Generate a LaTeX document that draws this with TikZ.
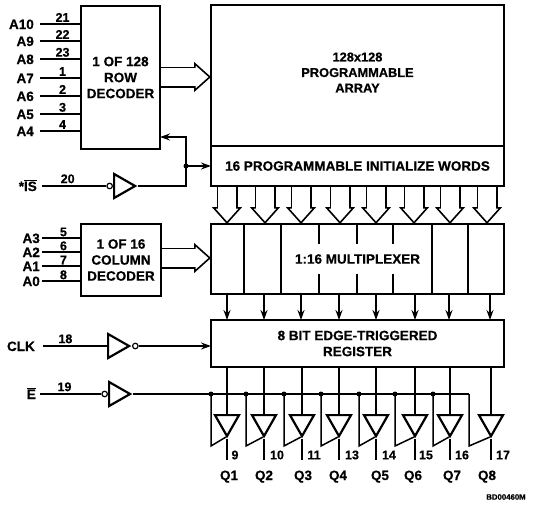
\documentclass[tikz,border=0pt]{standalone}
\usepackage{fontspec}
\setmainfont[BoldFeatures={FakeBold=0.5}]{Liberation Sans}
\usetikzlibrary{arrows.meta, positioning, shapes.geometric, calc, backgrounds}

\begin{document}
\begin{tikzpicture}[x=1pt, y=-1pt, font=\fontsize{13.5}{16}\selectfont\bfseries,
   box/.style={rectangle, draw=black, line width=2pt, fill=white, inner sep=0pt, outer sep=0pt, align=center},
   sig/.style={inner sep=0pt, text height=10pt, text depth=0pt},
   pinnum/.style={inner sep=0pt, font=\fontsize{12.5}{13}\selectfont\bfseries},
   wire/.style={line width=1.5pt},
   ar/.style={wire, -{Stealth[length=10pt, width=7pt]}},
   bus/.style={line width=21pt,
     -{Triangle[open, fill=white, length=17pt, width=30pt, line width=1.6pt]},
     postaction={draw=white, -, line width=17.8pt, shorten >=15pt}},
   buf/.style={isosceles triangle, isosceles triangle stretches, draw=black, line width=2.2pt,
     fill=white, inner sep=0pt, minimum width=24pt, minimum height=21pt},
   bubble/.style={circle, draw=black, line width=1.2pt, fill=white, inner sep=0pt, minimum size=5.5pt},
   dot/.style={circle, fill=black, inner sep=0pt, minimum size=5pt}]
 \useasboundingbox (0,0) rectangle (533,506);
 % main blocks
 \node[box, minimum width=293pt, minimum height=141pt] (array) at (357.5,75.5) {};
 \node[font=\fontsize{12.8}{15.5}\selectfont\bfseries, align=center, inner sep=0pt] (arraytxt) at ([yshift=3pt]array.center)
      {128x128\\PROGRAMMABLE\\ARRAY};
 \node[box, minimum width=293pt, minimum height=40pt, below=0pt of array] (init) {16 PROGRAMMABLE INITIALIZE WORDS};
 \node[box, minimum width=293pt, minimum height=70pt, below=38pt of init] (mux) {};
 \node[box, minimum width=293pt, minimum height=47pt, below=26pt of mux] (reg) {8 BIT EDGE-TRIGGERED\\REGISTER};
 \node[box, minimum width=79pt, minimum height=143pt] (rowdec) at (120.5,77.5) {1 OF 128\\ROW\\DECODER};
 \node[box, minimum width=80pt, minimum height=72pt] (coldec) at (121,260) {1 OF 16\\COLUMN\\DECODER};
 % row address inputs
 \foreach \nm/\pn/\yy in {A10/21/24, A9/22/41, A8/23/59, A7/1/78, A6/2/96, A5/3/114, A4/4/131} {
   \node[sig, anchor=east] (\nm) at (34,\yy) {\nm};
   \draw[wire] ([xshift=6pt]\nm.east) -- (\nm.east -| rowdec.west)
      node[pinnum, pos=.55, above=1.5pt] (p\pn) {\pn};
 }
 % column address inputs
 \foreach \nm/\pn/\yy in {A3/5/238, A2/6/252, A1/7/266, A0/8/281} {
   \node[sig, anchor=east] (\nm) at (40,\yy) {\nm};
   \draw[wire] ([xshift=2pt]\nm.east) -- (\nm.east -| coldec.west)
      node[pinnum, pos=.55, above=1pt] (p\pn) {\pn};
 }
 % initialize select
 \node[sig, anchor=east] (is) at (37,186) {*$\overline{\hbox{\bfseries IS}}$};
 \node[buf, anchor=lower side] (isbuf) at (113,186) {};
 \node[bubble, left=0pt of isbuf.lower side] (isinv) {};
 \draw[wire] ([xshift=5pt]is.east) -- (isinv.west) node[pinnum, pos=.4, above=2pt] (p20) {20};
 \coordinate (isj) at (186,166);
 \draw[wire] (isbuf.apex) -| (isj);
 \draw[ar] (isj) |- ([yshift=12pt]rowdec.south east);
 \draw[ar] (isj) -- (isj -| init.west);
 \node[dot] (isdot) at (isj) {};
 % clock
 \node[sig, anchor=east] (clk) at (35,346) {CLK};
 \node[buf, anchor=lower side] (clkbuf) at (107,346) {};
 \node[bubble, right=0pt of clkbuf.apex] (clkinv) {};
 \draw[wire] ([xshift=8pt]clk.east) -- (clkbuf.lower side) node[pinnum, pos=.35, above=2pt] (p18) {18};
 \draw[ar] (clkinv.east) -- (clkinv.east -| reg.west);
 % output enable
 \node[sig, anchor=east] (en) at (36,394) {$\overline{\hbox{\bfseries E}}$};
 \node[buf, anchor=lower side] (enbuf) at (108,394) {};
 \node[bubble, left=0pt of enbuf.lower side] (eninv) {};
 \draw[wire] ([xshift=4pt]en.east) -- (eninv.west) node[pinnum, pos=.4, above=2pt] (p19) {19};
 \coordinate (enend) at (469,394);
 \draw[wire] (enbuf.apex) -- (enend);
 % multiplexer dividers
 \foreach \xx in {244, 281, 319, 357, 393, 432, 468}
   \draw[wire] (\xx,0 |- mux.north) -- (\xx,0 |- mux.south);
 \node[fill=white, inner xsep=0pt, inner ysep=10pt] (muxtxt) at (mux.center) {1:16 MULTIPLEXER};
 % buses
 \begin{pgfonlayer}{background}
 \draw[bus] (rowdec.east |- 0,77) -- (array.west |- 0,77);
 \draw[bus] (coldec.east |- 0,258) -- (mux.west |- 0,258);
 \foreach \xx in {227, 265, 301, 340, 376, 414, 450, 487}
   \draw[bus] (\xx,0 |- init.south) -- (\xx,0 |- mux.north);
 \end{pgfonlayer}
 \foreach \xx in {227, 264, 301, 339, 376, 415, 449, 490}
   \draw[ar] (\xx,0 |- mux.south) -- (\xx,0 |- reg.north);
 % outputs
 \foreach \xx/\bx/\pn/\px/\qq/\qx in {227/211/9/235/1/229, 264/246/10/277/2/264, 302/284/11/314/3/303,
     339/321/13/352/4/338, 376/359/14/389/5/380, 415/395/15/426/6/413, 450/433/16/462/7/452, 491/469/17/503/8/487} {
   \node[buf, shape border rotate=-90, anchor=apex] (b\qq) at (\xx,439) {};
   \coordinate (en\qq) at (\bx,394);
   \coordinate (ec\qq) at (\bx,446);
   \draw[wire] (\xx,0 |- reg.south) -- (b\qq.lower side);
   \draw[wire] (b\qq.apex) -- (\xx,460) coordinate (o\qq);
   \draw[wire] (en\qq) -- (ec\qq) -- ([shift={(-1,-2)}]b\qq.apex);
   \node[pinnum] (p\pn) at (\px,455) {\pn};
   \node[sig] (q\qq) at (\qx,475) {Q\qq};
 }
 \foreach \qq in {1,...,7}
   \node[dot] (d\qq) at (en\qq) {};
 \node[inner sep=0pt, font=\fontsize{7.8}{8}\selectfont\bfseries] (code) at (506,497) {BD00460M};
\end{tikzpicture}
\end{document}
